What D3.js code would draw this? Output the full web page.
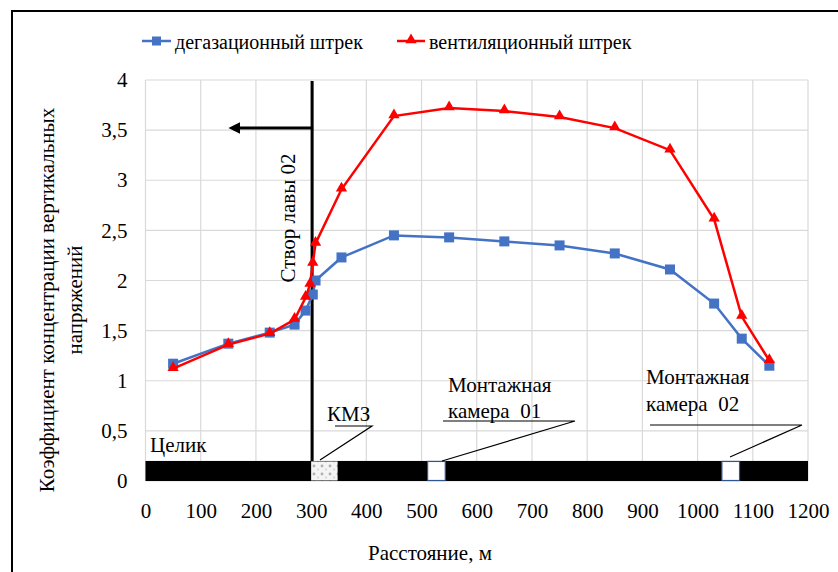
<!DOCTYPE html>
<html>
<head>
<meta charset="utf-8">
<script src="https://cdn.jsdelivr.net/npm/d3@7"></script>
<style>
  body { margin: 0; background: #fff; }
  svg text { font-family: "Liberation Serif", "Times New Roman", serif; fill: #000; }
</style>
</head>
<body>
<svg id="chart" width="838" height="572"></svg>
<script>
// Данные

const degX = [50, 150, 225, 270, 290, 303, 308, 355, 450, 550, 650, 750, 850, 950, 1030, 1080, 1130];
const degY = [1.17, 1.37, 1.48, 1.56, 1.70, 1.86, 2.00, 2.23, 2.45, 2.43, 2.39, 2.35, 2.27, 2.11, 1.77, 1.42, 1.15];

const ventX = [50, 150, 225, 270, 290, 298, 303, 308, 355, 450, 550, 650, 750, 850, 950, 1030, 1080, 1130];
const ventY = [1.12, 1.36, 1.47, 1.61, 1.83, 1.96, 2.17, 2.37, 2.91, 3.64, 3.72, 3.69, 3.63, 3.52, 3.30, 2.61, 1.64, 1.20];

const xTicks = [0, 100, 200, 300, 400, 500, 600, 700, 800, 900, 1000, 1100, 1200];
const yTicks = [0, 0.5, 1, 1.5, 2, 2.5, 3, 3.5, 4];

const seriesNames = ["дегазационный штрек", "вентиляционный штрек"];

// пласт внизу графика и выработки в нём
const seamTop = 0.2;
const gaps = [
  { name: "КМЗ", from: 300, to: 348 },
  { name: "Монтажная камера 01", from: 511, to: 543 },
  { name: "Монтажная камера 02", from: 1044, to: 1076 },
];
const stvorX = 300;

// Оформление

const svg = d3.select("#chart");
const x = d3.scaleLinear().domain([0, 1200]).range([145.5, 808]);
const y = d3.scaleLinear().domain([0, 4]).range([481, 80]);
const fmt = (d) => String(d).replace(".", ",");

const blue = "#4472C4";
const red = "#FF0000";

// рамка рисунка
svg.append("rect")
  .attr("x", 12).attr("y", 11)
  .attr("width", 900).attr("height", 700)
  .attr("fill", "none").attr("stroke", "#000").attr("stroke-width", 2);

// сетка
const grid = svg.append("g").attr("stroke", "#d9d9d9").attr("stroke-width", 1.2);
grid.selectAll(".gx").data(xTicks).enter().append("line")
  .attr("x1", (d) => x(d)).attr("x2", (d) => x(d))
  .attr("y1", y(4)).attr("y2", y(0));
grid.selectAll(".gy").data(yTicks).enter().append("line")
  .attr("x1", x(0)).attr("x2", x(1200))
  .attr("y1", (d) => y(d)).attr("y2", (d) => y(d));

// подписи осей
const xAxis = d3.axisBottom(x).tickValues(xTicks).tickSize(0).tickPadding(22).tickFormat(fmt);
svg.append("g").attr("transform", "translate(0," + y(0) + ")").call(xAxis)
  .call((g) => g.select(".domain").remove())
  .selectAll("text").style("font-size", "21px").style("font-family", "Liberation Serif");

const yAxis = d3.axisLeft(y).tickValues(yTicks).tickSize(0).tickPadding(18).tickFormat(fmt);
svg.append("g").attr("transform", "translate(" + x(0) + ",0)").call(yAxis)
  .call((g) => g.select(".domain").remove())
  .selectAll("text").style("font-size", "21px").style("font-family", "Liberation Serif");

svg.append("text")
  .attr("x", 430).attr("y", 560)
  .attr("text-anchor", "middle").style("font-size", "21px")
  .text("Расстояние, м");

const yTitle = svg.append("text")
  .attr("transform", "translate(54,300) rotate(-90)")
  .attr("text-anchor", "middle").style("font-size", "21px");
yTitle.append("tspan").attr("x", 0).attr("dy", 0).text("Коэффициент концентрации вертикальных");
yTitle.append("tspan").attr("x", 0).attr("dy", 28).text("напряжений");

// пласт
const defs = svg.append("defs");
const pat = defs.append("pattern").attr("id", "kmz")
  .attr("patternUnits", "userSpaceOnUse").attr("width", 8).attr("height", 8);
pat.append("rect").attr("width", 8).attr("height", 8).attr("fill", "#f4f4f4");
pat.append("circle").attr("cx", 2).attr("cy", 2).attr("r", 1.4).attr("fill", "#b0b0b0");
pat.append("circle").attr("cx", 6).attr("cy", 5.5).attr("r", 1).attr("fill", "#d0d0d0");

svg.append("rect")
  .attr("x", x(0)).attr("y", y(seamTop))
  .attr("width", x(1200) - x(0)).attr("height", y(0) - y(seamTop))
  .attr("fill", "#000");

svg.selectAll(".gap").data(gaps).enter().append("rect")
  .attr("x", (d) => x(d.from)).attr("y", y(seamTop) + 0.5)
  .attr("width", (d) => x(d.to) - x(d.from)).attr("height", y(0) - y(seamTop) - 1)
  .attr("fill", (d, i) => (i === 0 ? "url(#kmz)" : "#fff"))
  .attr("stroke", (d, i) => (i === 0 ? "none" : "#2F5597"))
  .attr("stroke-width", 1.2);

// створ лавы 02
svg.append("line")
  .attr("x1", x(stvorX) + 1).attr("x2", x(stvorX) + 1)
  .attr("y1", y(4) + 1).attr("y2", y(seamTop))
  .attr("stroke", "#000").attr("stroke-width", 3);

defs.append("marker").attr("id", "arr")
  .attr("viewBox", "0 0 10 10").attr("refX", 2).attr("refY", 5)
  .attr("markerWidth", 4).attr("markerHeight", 4).attr("orient", "auto")
  .append("path").attr("d", "M0,0 L10,5 L0,10 z").attr("fill", "#000");

svg.append("line")
  .attr("x1", x(stvorX) + 2).attr("x2", 238)
  .attr("y1", 128).attr("y2", 128)
  .attr("stroke", "#000").attr("stroke-width", 3)
  .attr("marker-end", "url(#arr)");

svg.append("text")
  .attr("transform", "translate(295,218) rotate(-90)")
  .attr("text-anchor", "middle").style("font-size", "21px")
  .text("Створ лавы 02");

// подписи выработок
const note = svg.append("g").style("font-size", "21px");
note.append("text").attr("x", 150).attr("y", 452).text("Целик");
note.append("text").attr("x", 327).attr("y", 421).text("КМЗ");
note.append("text").attr("x", 448).attr("y", 392).text("Монтажная");
note.append("text").attr("x", 448).attr("y", 418).attr("xml:space", "preserve").text("камера  01");
note.append("text").attr("x", 646).attr("y", 384).text("Монтажная");
note.append("text").attr("x", 646).attr("y", 411).attr("xml:space", "preserve").text("камера  02");

const leaders = [
  [[335, 426], [372, 426], [320, 460]],
  [[443, 421], [575, 421], [442, 461]],
  [[650, 425], [802, 425], [730, 457]],
];
svg.selectAll(".leader").data(leaders).enter().append("path")
  .attr("d", d3.line())
  .attr("fill", "none").attr("stroke", "#000").attr("stroke-width", 1.2);

// серии
const line = d3.line().x((d) => x(d[0])).y((d) => y(d[1]));
const degPts = degX.map((v, i) => [v, degY[i]]);
const ventPts = ventX.map((v, i) => [v, ventY[i]]);

svg.append("path").datum(degPts).attr("d", line)
  .attr("fill", "none").attr("stroke", blue).attr("stroke-width", 2.5);
svg.selectAll(".mdeg").data(degPts).enter().append("rect")
  .attr("x", (d) => x(d[0]) - 5).attr("y", (d) => y(d[1]) - 5)
  .attr("width", 10).attr("height", 10).attr("fill", blue);

const tri = d3.symbol().type(d3.symbolTriangle).size(55);
svg.append("path").datum(ventPts).attr("d", line)
  .attr("fill", "none").attr("stroke", red).attr("stroke-width", 2.5);
svg.selectAll(".mvent").data(ventPts).enter().append("path")
  .attr("d", tri)
  .attr("transform", (d) => "translate(" + x(d[0]) + "," + (y(d[1]) - 1) + ")")
  .attr("fill", red);

// легенда
const legend = svg.append("g").style("font-size", "20px");
legend.append("line").attr("x1", 142).attr("x2", 171).attr("y1", 41).attr("y2", 41)
  .attr("stroke", blue).attr("stroke-width", 2.5);
legend.append("rect").attr("x", 152).attr("y", 36.5).attr("width", 9).attr("height", 9).attr("fill", blue);
legend.append("text").attr("x", 175).attr("y", 49).text(seriesNames[0]);

legend.append("line").attr("x1", 397).attr("x2", 425).attr("y1", 41).attr("y2", 41)
  .attr("stroke", red).attr("stroke-width", 2.5);
legend.append("path").attr("d", tri).attr("transform", "translate(411,40)").attr("fill", red);
legend.append("text").attr("x", 429).attr("y", 49).text(seriesNames[1]);
</script>
</body>
</html>
